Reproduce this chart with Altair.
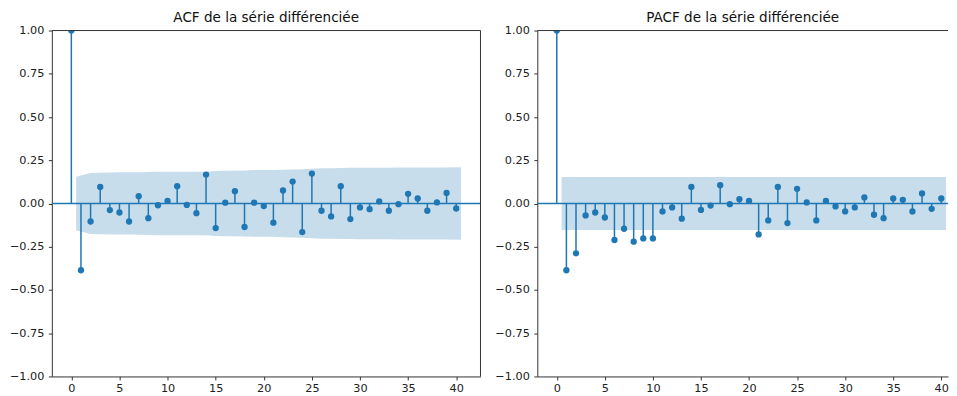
import altair as alt
import pandas as pd

# ---- data ----
lags = list(range(41))
acf_vals = [1.0, -0.386, -0.104, 0.096, -0.038, -0.052, -0.104, 0.042, -0.085, -0.010,
            0.015, 0.100, -0.008, -0.056, 0.167, -0.142, 0.005, 0.071, -0.136, 0.005,
            -0.015, -0.111, 0.075, 0.127, -0.165, 0.173, -0.042, -0.075, 0.100, -0.090,
            -0.023, -0.033, 0.012, -0.042, -0.004, 0.056, 0.029, -0.042, 0.006, 0.061,
            -0.029]
pacf_vals = [1.0, -0.386, -0.288, -0.069, -0.052, -0.081, -0.211, -0.146, -0.221, -0.202,
             -0.202, -0.046, -0.023, -0.088, 0.096, -0.037, -0.012, 0.106, -0.004, 0.025,
             0.015, -0.179, -0.098, 0.096, -0.113, 0.085, 0.006, -0.098, 0.015, -0.017,
             -0.046, -0.023, 0.035, -0.065, -0.085, 0.029, 0.021, -0.046, 0.058, -0.031,
             0.029]
# half-width of the 95% confidence band for lags 1..40
acf_band = [0.155, 0.177, 0.178, 0.179, 0.180, 0.180, 0.181, 0.182, 0.183, 0.183,
            0.183, 0.184, 0.184, 0.184, 0.188, 0.190, 0.190, 0.191, 0.193, 0.193,
            0.193, 0.195, 0.196, 0.198, 0.201, 0.204, 0.204, 0.205, 0.206, 0.207,
            0.207, 0.207, 0.207, 0.208, 0.208, 0.208, 0.208, 0.208, 0.208, 0.209]
pacf_band = [0.153] * 40
x_ticks = [0, 5, 10, 15, 20, 25, 30, 35, 40]
y_ticks = [-1.0, -0.75, -0.5, -0.25, 0.0, 0.25, 0.5, 0.75, 1.0]
titles = ["ACF de la série différenciée", "PACF de la série différenciée"]

C0 = "#1f77b4"
SPINE = "#333333"

# band x positions as in statsmodels (first/last lag extended by half a lag)
band_x = [float(v) for v in lags[1:]]
band_x[0] -= 0.5
band_x[-1] += 0.5


def panel(vals, band, title, xmax, width, spine_right):
    df = pd.DataFrame({"lag": lags, "value": vals, "zero": [0.0] * len(lags)})
    bdf = pd.DataFrame({"x": band_x, "lo": [-b for b in band], "hi": band})
    zdf = pd.DataFrame({"z": [0.0]})

    xs = alt.Scale(domain=[-2.025, xmax], nice=False, zero=False)
    ys = alt.Scale(domain=[-1, 1], nice=False, zero=False)
    xax = alt.Axis(values=x_ticks, grid=False, labelFontSize=11.3, tickSize=3.5,
                   tickColor=SPINE, domainColor=SPINE, labelColor="#222222",
                   labelPadding=3, title=None)
    yax = alt.Axis(values=y_ticks, format=".2f", grid=False, labelFontSize=11.3,
                   tickSize=3.5, tickColor=SPINE, domainColor=SPINE,
                   labelColor="#222222", labelPadding=4.5, title=None)

    stems = alt.Chart(df).mark_rule(color=C0, strokeWidth=1.5, clip=True).encode(
        x=alt.X("lag:Q", scale=xs, axis=xax),
        y=alt.Y("value:Q", scale=ys, axis=yax),
        y2="zero:Q",
    )
    pts = alt.Chart(df).mark_circle(color=C0, size=40, opacity=1, clip=True).encode(
        x="lag:Q", y="value:Q"
    )
    zero = alt.Chart(zdf).mark_rule(color=C0, strokeWidth=1.5).encode(y="z:Q")
    area = alt.Chart(bdf).mark_area(color=C0, opacity=0.25).encode(
        x="x:Q", y="lo:Q", y2="hi:Q"
    )
    top = alt.Chart(zdf).mark_rule(color=SPINE, strokeWidth=1).encode(
        y=alt.value(0)
    )
    layers = [stems, pts, zero, area, top]
    if spine_right:
        right = alt.Chart(zdf).mark_rule(color=SPINE, strokeWidth=1).encode(
            x=alt.value(width)
        )
        layers.append(right)
    return alt.layer(*layers).properties(
        width=width, height=347,
        title=alt.TitleParams(title, fontSize=13.6, fontWeight="normal",
                              color="#111111", offset=0),
    )


left = panel(acf_vals, acf_band, titles[0], 42.525, 430, True)
right = panel(pacf_vals, pacf_band, titles[1], 40.7, 412, False)

chart = alt.hconcat(left, right, spacing=13).properties(
    padding={"left": 1, "top": 2, "right": 0, "bottom": 0}
).configure(font="DejaVu Sans").configure_view(stroke=None)

chart.save("out.html", embed_options={"renderer": "svg", "actions": False})
